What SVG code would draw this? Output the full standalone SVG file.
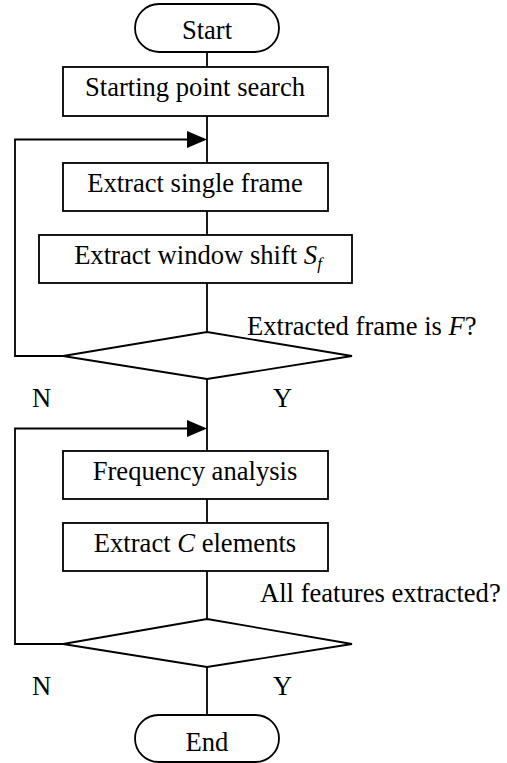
<svg xmlns="http://www.w3.org/2000/svg" width="507" height="763" viewBox="0 0 507 763">
<style>
.s{fill:#fff;stroke:#000;stroke-width:1.8}
.c{fill:none;stroke:#000;stroke-width:1.8}
.t{font-family:"Liberation Serif","Times New Roman",serif;font-size:26.6px;fill:#000}
.m{text-anchor:middle}
.i{font-style:italic}
</style>
<rect width="507" height="763" fill="#fff"/>
<g id="connectors">
<line class="c" x1="207" y1="52" x2="207" y2="67"/>
<line class="c" x1="207" y1="116" x2="207" y2="163"/>
<line class="c" x1="207" y1="211" x2="207" y2="235"/>
<line class="c" x1="207" y1="283" x2="207" y2="332"/>
<line class="c" x1="207" y1="379" x2="207" y2="451"/>
<line class="c" x1="207" y1="499" x2="207" y2="523"/>
<line class="c" x1="207" y1="571" x2="207" y2="619"/>
<line class="c" x1="207" y1="667" x2="207" y2="715"/>
<polyline class="c" points="63,356 15,356 15,139.5 190,139.5"/>
<polygon points="187,131 207,139.5 187,148" fill="#000"/>
<polyline class="c" points="63,644 15,644 15,428.5 190,428.5"/>
<polygon points="187,420 207,428.5 187,437" fill="#000"/>
<text class="t" x="32" y="407">N</text>
<text class="t" x="273" y="407">Y</text>
<text class="t" x="32" y="695">N</text>
<text class="t" x="273" y="695">Y</text>
</g>
<g id="start">
<rect class="s" x="135" y="4" width="144" height="48" rx="24" ry="24"/>
<text class="t m" x="207" y="39">Start</text>
</g>
<g id="search">
<rect class="s" x="63" y="67" width="265" height="49"/>
<text class="t m" x="195" y="96">Starting point search</text>
</g>
<g id="single">
<rect class="s" x="63" y="163" width="265" height="48"/>
<text class="t m" x="195" y="192">Extract single frame</text>
</g>
<g id="shift">
<rect class="s" x="39" y="235" width="313" height="48"/>
<text class="t m" x="198" y="264">Extract window shift <tspan class="i">S</tspan><tspan class="i" font-size="17" dy="5">f</tspan></text>
</g>
<g id="decision1">
<polygon class="s" points="207,332 352,356 207,379 63,356"/>
<text class="t" x="247" y="335">Extracted frame is <tspan class="i">F</tspan>?</text>
</g>
<g id="freq">
<rect class="s" x="63" y="451" width="265" height="48"/>
<text class="t m" x="195" y="480">Frequency analysis</text>
</g>
<g id="celements">
<rect class="s" x="63" y="523" width="265" height="48"/>
<text class="t m" x="195" y="552">Extract <tspan class="i">C</tspan> elements</text>
</g>
<g id="decision2">
<polygon class="s" points="207,619 352,644 207,667 63,644"/>
<text class="t" x="260" y="602">All features extracted?</text>
</g>
<g id="end">
<rect class="s" x="135" y="715" width="144" height="47" rx="23.5" ry="23.5"/>
<text class="t m" x="207" y="751">End</text>
</g>
</svg>
